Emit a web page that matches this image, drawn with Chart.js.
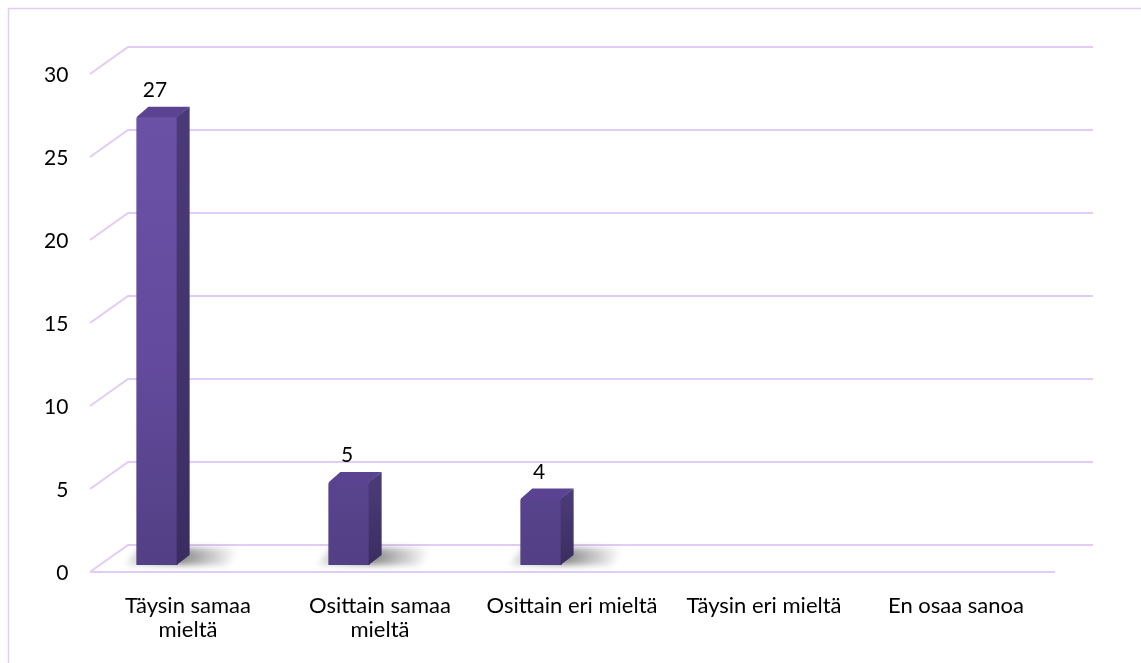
<!DOCTYPE html>
<html>
<head>
<meta charset="utf-8">
<script src="https://cdn.jsdelivr.net/npm/chart.js@4"></script>
<style>
  html, body { margin: 0; padding: 0; background: #fff; }
  #wrap { width: 1141px; height: 663px; }
</style>
</head>
<body>
<div id="wrap"><canvas id="chart" width="1141" height="663"></canvas></div>
<script>
// vastausvaihtoehdot ja vastausten määrät
const vaihtoehdot = [
    ['Täysin samaa', 'mieltä'],
    ['Osittain samaa', 'mieltä'],
    'Osittain eri mieltä',
    'Täysin eri mieltä',
    'En osaa sanoa'
];
const vastaukset = [27, 5, 4, 0, 0];
const asteikko = { min: 0, max: 30, step: 5 };

const viivaVari = '#e2cbf7';
const fontti = 'Lato, "Noto Sans", sans-serif';

// syvyys: pylväiden sivu ja kansi
const syvX = 12, syvY = -10;

// kehys ja "3D" ruudukko
const ruudukko = {
    id: 'ruudukko',
    beforeDraw(chart) {
        const ctx = chart.ctx;
        ctx.save();
        ctx.strokeStyle = viivaVari;
        ctx.lineWidth = 1.5;
        ctx.beginPath();
        ctx.moveTo(8.5, 700);
        ctx.lineTo(8.5, 8.5);
        ctx.lineTo(1200, 8.5);
        ctx.stroke();
        ctx.restore();
    },
    beforeDatasetsDraw(chart) {
        const ctx = chart.ctx;
        const y = chart.scales.y;
        const eteen = 90, taakse = 128, loppu = 1093, lattiaLoppu = 1055;
        ctx.save();
        ctx.strokeStyle = viivaVari;
        ctx.lineWidth = 2;
        y.ticks.forEach(t => {
            const py = y.getPixelForValue(t.value);
            ctx.beginPath();
            ctx.moveTo(eteen, py + 7);
            ctx.lineTo(taakse, py - 20);
            ctx.lineTo(loppu, py - 20);
            if (t.value === asteikko.min) {
                ctx.moveTo(eteen, py + 7);
                ctx.lineTo(lattiaLoppu, py + 7);
            }
            ctx.stroke();
        });

        // varjot pylväiden juurella
        const meta = chart.getDatasetMeta(0);
        meta.data.forEach((bar, i) => {
            if (!vastaukset[i]) return;
            const w = bar.width, vasen = bar.x - w / 2, oikea = bar.x + w / 2, pohja = bar.base;
            const g = ctx.createLinearGradient(vasen, 0, oikea + 60, 0);
            g.addColorStop(0, 'rgba(0,0,0,0.15)');
            g.addColorStop(0.45, 'rgba(0,0,0,0.45)');
            g.addColorStop(1, 'rgba(0,0,0,0)');
            ctx.filter = 'blur(3px)';
            ctx.fillStyle = g;
            ctx.beginPath();
            ctx.moveTo(vasen - 10, pohja);
            ctx.lineTo(oikea + 50, pohja);
            ctx.lineTo(oikea + 62, pohja - 17);
            ctx.lineTo(vasen + 2, pohja - 17);
            ctx.closePath();
            ctx.fill();
            ctx.filter = 'none';
        });
        ctx.restore();
    },
    afterDatasetsDraw(chart) {
        const ctx = chart.ctx;
        const meta = chart.getDatasetMeta(0);
        ctx.save();
        meta.data.forEach((bar, i) => {
            const arvo = vastaukset[i];
            if (!arvo) return;
            const w = bar.width, vasen = bar.x - w / 2, oikea = bar.x + w / 2;
            const yla = bar.y, pohja = bar.base;

            // sivu
            const gs = ctx.createLinearGradient(0, yla, 0, pohja);
            gs.addColorStop(0, '#4b3a78');
            gs.addColorStop(1, '#3b2d60');
            ctx.fillStyle = gs;
            ctx.beginPath();
            ctx.moveTo(oikea - 1, yla);
            ctx.lineTo(oikea + syvX, yla + syvY);
            ctx.lineTo(oikea + syvX, pohja + syvY);
            ctx.lineTo(oikea - 1, pohja);
            ctx.closePath();
            ctx.fill();

            // kansi
            ctx.fillStyle = '#5b4391';
            ctx.beginPath();
            ctx.moveTo(vasen, yla + 0.5);
            ctx.lineTo(vasen + syvX, yla + syvY);
            ctx.lineTo(oikea + syvX, yla + syvY);
            ctx.lineTo(oikea - 1, yla + 0.5);
            ctx.closePath();
            ctx.fill();

            // arvo pylvään yläpuolella
            ctx.fillStyle = '#000';
            ctx.font = '21px ' + fontti;
            ctx.textAlign = 'center';
            ctx.textBaseline = 'alphabetic';
            ctx.fillText(String(arvo), bar.x - 2, yla - 20);
        });
        ctx.restore();
    }
};

const ctx = document.getElementById('chart').getContext('2d');
new Chart(ctx, {
    type: 'bar',
    data: {
        labels: vaihtoehdot,
        datasets: [{
            data: vastaukset,
            backgroundColor: (c) => {
                const a = c.chart.chartArea;
                if (!a) return '#6850a2';
                const g = c.chart.ctx.createLinearGradient(0, a.top, 0, a.bottom);
                g.addColorStop(0, '#6d53a8');
                g.addColorStop(0.6, '#634a9c');
                g.addColorStop(1, '#523f84');
                return g;
            },
            borderWidth: 0,
            borderRadius: 2,
            barPercentage: 0.215,
            categoryPercentage: 1
        }]
    },
    options: {
        responsive: false,
        animation: false,
        layout: { padding: { top: 67, right: 120, bottom: 0, left: 0 } },
        plugins: {
            legend: { display: false },
            tooltip: { enabled: false }
        },
        scales: {
            x: {
                grid: { display: false, drawTicks: false },
                border: { display: false },
                ticks: {
                    color: '#000',
                    font: { family: fontti, size: 22, lineHeight: 1.1 },
                    padding: 29,
                    labelOffset: 31,
                    maxRotation: 0,
                    autoSkip: false
                },
                afterFit(s) { s.height = 98; }
            },
            y: {
                min: asteikko.min,
                max: asteikko.max,
                grid: { display: false, drawTicks: false },
                border: { display: false },
                ticks: {
                    stepSize: asteikko.step,
                    color: '#000',
                    font: { family: fontti, size: 21 },
                    mirror: true,
                    crossAlign: 'far',
                    padding: -17,
                    labelOffset: 8
                },
                afterFit(s) { s.width = 61; }
            }
        }
    },
    plugins: [ruudukko]
});
</script>
</body>
</html>
